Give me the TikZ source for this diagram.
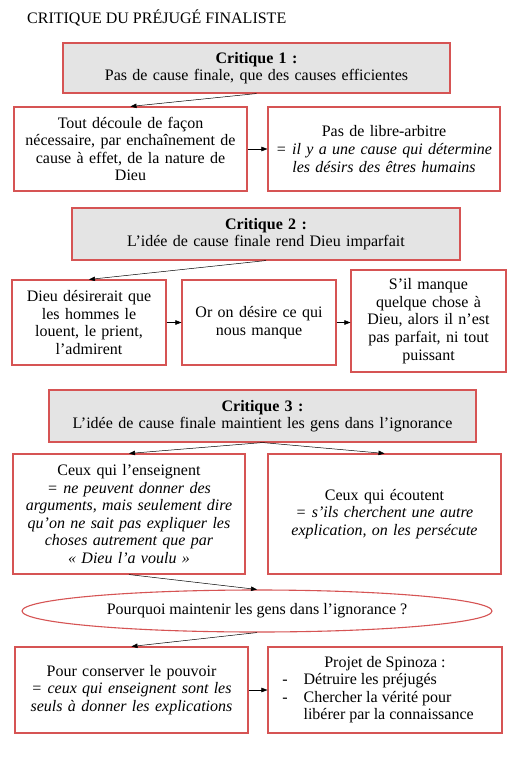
\documentclass[tikz,border=0pt]{standalone}
\usepackage{fontspec}
\setmainfont{Liberation Serif}
\usetikzlibrary{arrows.meta,shapes.geometric}
\definecolor{boxred}{RGB}{214,84,84}
\definecolor{boxgray}{RGB}{228,228,228}
\hyphenpenalty=10000
\exhyphenpenalty=10000
\begin{document}
\begin{tikzpicture}[x=1pt,y=-1pt,
  every node/.style={font=\fontsize{16}{17.6}\selectfont},
  box/.style={draw=boxred,line width=1.1pt,rectangle,inner sep=2pt,align=center},
  critbox/.style={box,fill=boxgray},
  conn/.style={draw=black,line width=0.5pt,-{Triangle[length=6pt,width=4.5pt]}}]
\useasboundingbox[fill=white] (0,0) rectangle (519,757);
\node[anchor=base west,inner sep=0] (title) at (27,23.5) {CRITIQUE DU PRÉJUGÉ FINALISTE};
% Critique 1
\node[critbox,minimum width=387pt,minimum height=50pt,text width=380pt] (c1) at (256.5,68)
  {\textbf{Critique 1 :}\\Pas de cause finale, que des causes efficientes};
\node[box,minimum width=233pt,minimum height=84pt,text width=228pt] (a) at (130.5,149)
  {Tout découle de façon\\nécessaire, par enchaînement de\\cause à effet, de la nature de\\Dieu};
\node[box,minimum width=232pt,minimum height=84pt,text width=228pt] (b) at (384,149)
  {Pas de libre-arbitre\\\textit{= il y a une cause qui détermine}\\\textit{les désirs des êtres humains}};
% Critique 2
\node[critbox,minimum width=388pt,minimum height=52pt,text width=380pt] (c2) at (266,234)
  {\textbf{Critique 2 :}\\L’idée de cause finale rend Dieu imparfait};
\node[box,minimum width=154pt,minimum height=85pt,text width=150pt] (c) at (89,322.5)
  {Dieu désirerait que\\les hommes le\\louent, le prient,\\l’admirent};
\node[box,minimum width=154pt,minimum height=85pt,text width=150pt] (d) at (259,322.5)
  {Or on désire ce qui\\nous manque};
\node[box,minimum width=155pt,minimum height=102pt,text width=150pt] (e) at (428.5,321)
  {S’il manque\\quelque chose à\\Dieu, alors il n’est\\pas parfait, ni tout\\puissant};
% Critique 3
\node[critbox,minimum width=427pt,minimum height=52pt,text width=422pt] (c3) at (262.5,416)
  {\textbf{Critique 3 :}\\L’idée de cause finale maintient les gens dans l’ignorance};
\node[box,minimum width=232pt,minimum height=120pt,text width=228pt] (f) at (129,514)
  {Ceux qui l’enseignent\\\textit{= ne peuvent donner des}\\\textit{arguments, mais seulement dire}\\\textit{qu’on ne sait pas expliquer les}\\\textit{choses autrement que par}\\\textit{«~Dieu l’a voulu~»}};
\node[box,minimum width=233pt,minimum height=120pt,text width=228pt] (g) at (384.5,514)
  {Ceux qui écoutent\\\textit{= s’ils cherchent une autre}\\\textit{explication, on les persécute}};
\node[draw=boxred,line width=1.1pt,ellipse,inner sep=0pt,minimum width=470pt,minimum height=42pt] (q) at (257,611)
  {Pourquoi maintenir les gens dans l’ignorance ?};
\node[box,minimum width=233pt,minimum height=86pt,text width=228pt] (h) at (131.5,690)
  {Pour conserver le pouvoir\\\textit{= ceux qui enseignent sont les}\\\textit{seuls à donner les explications}};
\node[box,minimum width=234pt,minimum height=86pt] (i) at (385,690)
  {\begin{tabular}{@{}l@{\hspace{16pt}}l@{}}
   \multicolumn{2}{c}{\hspace{14pt}Projet de Spinoza :}\\
   -& Détruire les préjugés\\
   -& Chercher la vérité pour\\
    & libérer par la connaissance
   \end{tabular}\hspace{14pt}};
% connectors
\draw[conn] (c1.south) -- (a.north);
\draw[conn] (a.east) -- (b.west);
\draw[conn] (c2.south) -- (c.north);
\draw[conn] (c.east) -- (d.west);
\draw[conn] (d.east) -- (e.west |- d.east);
\draw[conn] (c3.south) -- (f.north);
\draw[conn] (c3.south) -- (g.north);
\draw[conn] (f.south) -- (q.north);
\draw[conn] (q.south) -- (h.north);
\draw[conn] (h.east) -- (i.west);
\end{tikzpicture}
\end{document}
